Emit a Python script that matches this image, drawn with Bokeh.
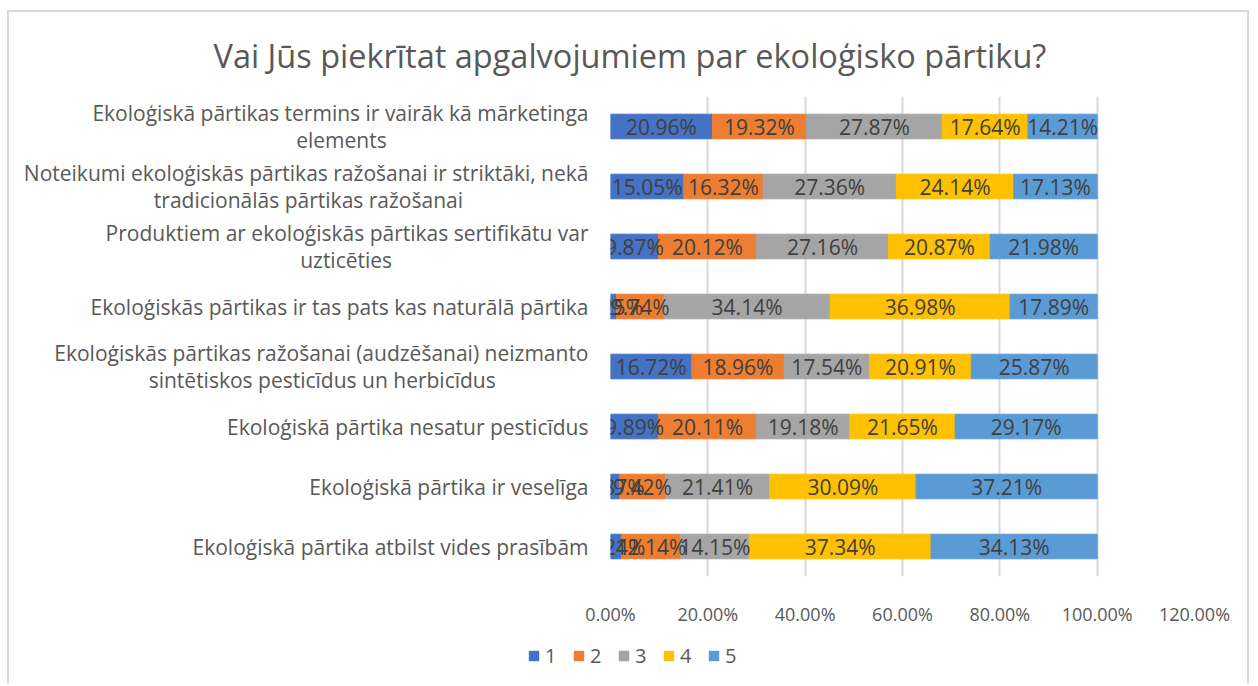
from bokeh.plotting import figure
from bokeh.models import (ColumnDataSource, FactorRange, FixedTicker, NumeralTickFormatter,
                          Legend, LegendItem, Title)
from bokeh.core.properties import value
from bokeh.embed import file_html
from bokeh.resources import INLINE

# ---- data (top row first) ----
categories = [
    "Ekoloģiskā pārtikas termins ir vairāk kā mārketinga elements",
    "Noteikumi ekoloģiskās pārtikas ražošanai ir striktāki, nekā tradicionālās pārtikas ražošanai",
    "Produktiem ar ekoloģiskās pārtikas sertifikātu var uzticēties",
    "Ekoloģiskās pārtikas ir tas pats kas naturālā pārtika",
    "Ekoloģiskās pārtikas ražošanai (audzēšanai) neizmanto sintētiskos pesticīdus un herbicīdus",
    "Ekoloģiskā pārtika nesatur pesticīdus",
    "Ekoloģiskā pārtika ir veselīga",
    "Ekoloģiskā pārtika atbilst vides prasībām",
]
series_names = ["1", "2", "3", "4", "5"]
s1 = [20.96, 15.05, 9.87, 1.25, 16.72, 9.89, 1.87, 2.24]
s2 = [19.32, 16.32, 20.12, 9.74, 18.96, 20.11, 9.42, 12.14]
s3 = [27.87, 27.36, 27.16, 34.14, 17.54, 19.18, 21.41, 14.15]
s4 = [17.64, 24.14, 20.87, 36.98, 20.91, 21.65, 30.09, 37.34]
s5 = [14.21, 17.13, 21.98, 17.89, 25.87, 29.17, 37.21, 34.13]
x_ticks = [0, 0.2, 0.4, 0.6, 0.8, 1.0, 1.2]
title_text = "Vai Jūs piekrītat apgalvojumiem par ekoloģisko pārtiku?"

# ---- layout-only helpers: where long labels wrap, and padding that centres line 2 ----
wrap_after = {0: "mārketinga", 1: "nekā", 2: "var", 4: "neizmanto"}
pad_nbsp = {0: 37, 1: 23, 2: 36, 4: 17}


def wrapped(i, cat):
    if i not in wrap_after:
        return cat
    w = wrap_after[i]
    k = cat.index(w) + len(w)
    return cat[:k] + "\n" + cat[k + 1:] + "\u00a0" * pad_nbsp[i]


labels = [wrapped(i, c) for i, c in enumerate(categories)]

colors = ["#4472C4", "#ED7D31", "#A5A5A5", "#FFC000", "#5B9BD5"]
series = [s1, s2, s3, s4, s5]
keys = ["s1", "s2", "s3", "s4", "s5"]
FONT = "Open Sans"
BORDER = "2px solid #d9d9d9"

data = {"y": labels}
for k, s in zip(keys, series):
    data[k] = [v / 100.0 for v in s]
src = ColumnDataSource(data)

p = figure(width=1242, height=616, output_backend="svg", toolbar_location=None,
           y_range=FactorRange(factors=list(reversed(labels))),
           x_range=(0, 1.2),
           min_border_left=601, min_border_right=57, min_border_top=83, min_border_bottom=45)
p.styles = {"border-top": BORDER, "border-left": BORDER, "border-right": BORDER,
            "margin-left": "7px", "margin-top": "10px"}

renderers = p.hbar_stack(keys, y="y", height=0.41, color=colors, source=src)

# data labels centred on each segment
lx, ly, lt = [], [], []
for i, lab in enumerate(labels):
    acc = 0.0
    for s in series:
        v = s[i]
        lx.append((acc + v / 2) / 100.0)
        ly.append(lab)
        lt.append(f"{v:.2f}%")
        acc += v
p.text(x=lx, y=ly, text=lt, text_align="center", text_baseline="middle",
       text_font=value(FONT), text_font_size="21px", text_color="#404040")

# x axis
p.xaxis.ticker = FixedTicker(ticks=x_ticks)
p.xaxis.formatter = NumeralTickFormatter(format="0.00%")
p.xaxis.axis_line_color = None
p.xaxis.major_tick_line_color = None
p.xaxis.minor_tick_line_color = None
p.xaxis.major_label_text_font = FONT
p.xaxis.major_label_text_font_size = "18px"
p.xaxis.major_label_text_color = "#595959"
p.xaxis.major_label_standoff = 19

# y axis
p.yaxis.axis_line_color = None
p.yaxis.major_tick_line_color = None
p.yaxis.minor_tick_line_color = None
p.yaxis.major_label_text_font = FONT
p.yaxis.major_label_text_font_size = "21px"
p.yaxis.major_label_text_color = "#595959"
p.yaxis.major_label_text_line_height = 0.98
p.yaxis.major_label_standoff = 16

p.xgrid.grid_line_color = "#d9d9d9"
p.xgrid.grid_line_width = 2
p.xgrid.ticker = FixedTicker(ticks=x_ticks)
p.ygrid.grid_line_color = None
p.outline_line_color = None

# title
p.add_layout(Title(text=title_text, align="left", offset=-397, standoff=37,
                   text_font=FONT, text_font_size="32.5px", text_font_style="normal",
                   text_color="#595959"), "above")

# legend strip (its own figure, placed right under the chart)
pl = figure(width=1242, height=58, output_backend="svg", toolbar_location=None,
            x_range=(0, 1), y_range=(0, 1), x_axis_location=None, y_axis_location=None,
            min_border=0, min_border_left=0, min_border_right=0, min_border_top=0,
            min_border_bottom=0)
pl.styles = {"border-left": BORDER, "border-right": BORDER, "margin-left": "7px"}
pl.outline_line_color = None
pl.grid.grid_line_color = None
# zero-size swatch renderers that only feed the legend
swatches = [pl.hbar(y=[0.5], left=[0], right=[0], height=0, fill_color=c, line_color=None)
            for c in colors]
legend = Legend(items=[LegendItem(label=n, renderers=[r]) for n, r in zip(series_names, swatches)],
                orientation="horizontal", location=(518, 15),
                glyph_width=13, glyph_height=13, label_standoff=5, spacing=15,
                label_width=12, label_height=13,
                padding=0, margin=0, border_line_color=None, background_fill_alpha=0,
                label_text_font=FONT, label_text_font_size="20px", label_text_color="#595959")
pl.add_layout(legend, "center")

open("out.html", "w").write(file_html([p, pl], INLINE))
